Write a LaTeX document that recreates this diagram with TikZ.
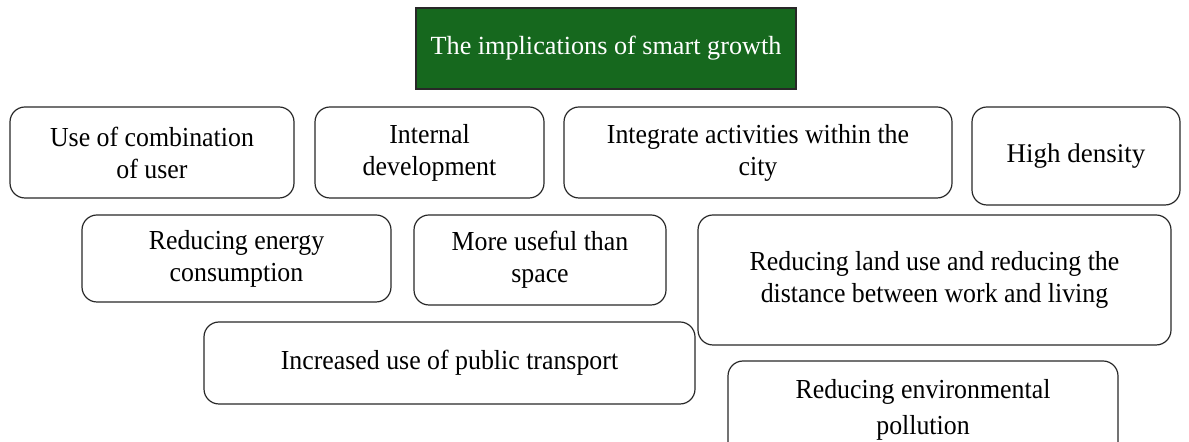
\documentclass[tikz,border=0pt]{standalone}
\usepackage{fontspec}
\setmainfont{Liberation Serif}[FakeStretch=0.94]
\newfontfamily\plainserif{Liberation Serif}
\definecolor{hdrgreen}{RGB}{22,104,30}
\definecolor{edge}{RGB}{40,40,40}
\tikzset{
  px/.style={x=0.5pt,y=-0.5pt},
  box/.style={draw=edge, line width=0.6pt, rounded corners=7.5pt, align=center,
    font=\fontsize{13.75}{16}\selectfont, inner sep=0pt},
  hdr/.style={draw=edge, line width=0.6pt, fill=hdrgreen, text=white, align=center,
    font=\plainserif\fontsize{13.1}{15.5}\selectfont, inner sep=0pt}
}
\begin{document}
\begin{tikzpicture}[px]
\useasboundingbox (0,0) rectangle (1189,442);
\clip (0,0) rectangle (1189,442);
\node[hdr, minimum width=190pt, minimum height=40.5pt] (top) at (606,48.5) {The implications of smart growth};
\node[box, minimum width=142pt, minimum height=45.5pt] (b1) at (152,152.5) {Use of combination\\of user};
\node[box, minimum width=114.5pt, minimum height=45.5pt] (b2) at (429.5,152.5) {Internal\\development};
\node[box, minimum width=194pt, minimum height=45.5pt] (b3) at (758,152.5) {Integrate activities within the\\city};
\node[box, minimum width=104pt, minimum height=49pt, font=\plainserif\fontsize{13.5}{16}\selectfont] (b4) at (1076,156) {High density};
\node[box, minimum width=154.5pt, minimum height=43.5pt] (b5) at (236.5,258.5) {Reducing energy\\consumption};
\node[box, minimum width=126pt, minimum height=45pt] (b6) at (540,260) {More useful than\\space};
\node[box, minimum width=236.5pt, minimum height=65pt] (b7) at (934.5,280) {Reducing land use and reducing the\\distance between work and living};
\node[box, minimum width=245.5pt, minimum height=41pt] (b8) at (449.5,363) {Increased use of public transport};
\node[box, minimum width=195pt, minimum height=49pt, font=\fontsize{13.75}{18}\selectfont] (b9) at (923,410) {Reducing environmental\\pollution};
\end{tikzpicture}
\end{document}
